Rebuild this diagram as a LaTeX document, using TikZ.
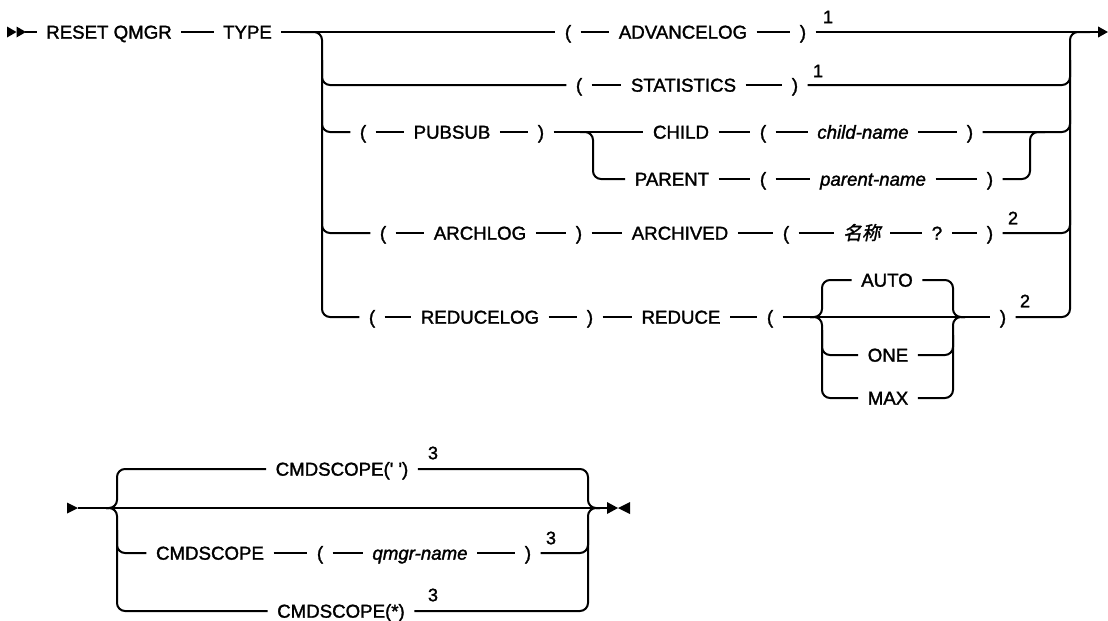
\documentclass[tikz,border=0pt]{standalone}
\usepackage{fontspec}
\setmainfont{Liberation Sans}[FakeBold=1.6]
\newfontfamily\cjkfont[FakeSlant=0.2,FakeBold=1.6]{Noto Sans CJK SC}
\usetikzlibrary{arrows.meta}
\begin{document}
\begin{tikzpicture}[x=0.75pt,y=-0.75pt,
  kw/.style={font=\fontsize{14}{16}\selectfont, inner xsep=7pt, inner ysep=0pt, text height=10pt, text depth=0pt},
  var/.style={kw, font=\fontsize{14}{16}\selectfont\itshape},
  note/.style={font=\fontsize{13.5}{15}\selectfont, inner sep=0pt},
  rc/.style={rounded corners=6pt},
  ln/.style={line width=1.5pt},
  tipfill/.style={fill=black}]
\useasboundingbox (0,0) rectangle (1108,621);

% ---------- row 1 ----------
\node[kw] (reset) at (109,32) {RESET QMGR};
\node[kw] (type) at (247.5,32) {TYPE};
\node[kw] (aop) at (568,32) {(};
\node[kw] (adv) at (683,32) {ADVANCELOG};
\node[kw] (acl) at (803,32) {)};
\node[note] (n1a) at (828,17) {1};
% ---------- row 2 ----------
\node[kw] (sop) at (579,85) {(};
\node[kw] (stat) at (683.5,85) {STATISTICS};
\node[kw] (scl) at (795,85) {)};
\node[note] (n1b) at (818,71) {1};
% ---------- row 3 ----------
\node[kw] (pop) at (363,132) {(};
\node[kw] (pubsub) at (452,132) {PUBSUB};
\node[kw] (pcl) at (541,132) {)};
\node[kw] (child) at (681,132) {CHILD};
\node[kw] (cop) at (763,132) {(};
\node[var] (cname) at (863,132) {child-name};
\node[kw] (ccl) at (970,132) {)};
% ---------- row 4 ----------
\node[kw] (parent) at (672,179) {PARENT};
\node[kw] (paop) at (763,179) {(};
\node[var] (pname) at (873,179) {parent-name};
\node[kw] (pacl) at (990,179) {)};
% ---------- row 5 ----------
\node[kw] (arop) at (383,233) {(};
\node[kw] (archlog) at (480,233) {ARCHLOG};
\node[kw] (arcl) at (579,233) {)};
\node[kw] (archived) at (680,233) {ARCHIVED};
\node[kw] (arvop) at (786,233) {(};
\node[kw] (mc) at (862,233) {\cjkfont 名称};
\node[kw] (qm) at (937,233) {?};
\node[kw] (arvcl) at (990,233) {)};
\node[note] (n2a) at (1013,218) {2};
% ---------- row 6 ----------
\node[kw] (rdop) at (372,317) {(};
\node[kw] (reducelog) at (480,317) {REDUCELOG};
\node[kw] (rdcl) at (590,317) {)};
\node[kw] (reduce) at (681,317) {REDUCE};
\node[kw] (rop) at (770,317) {(};
\node[kw] (rcl) at (1003,317) {)};
\node[note] (n2b) at (1025,301) {2};
\node[kw] (auto) at (887,280) {AUTO};
\node[kw] (one) at (888,355) {ONE};
\node[kw] (max) at (888,398) {MAX};

% ---------- bottom ----------
\node[kw] (cs1) at (342,469) {CMDSCOPE(\textquotesingle{} \textquotesingle)};
\node[note] (n3a) at (433,453) {3};
\node[kw] (cs2) at (210,553) {CMDSCOPE};
\node[kw] (csop) at (320,553) {(};
\node[var] (qname) at (420,553) {qmgr-name};
\node[kw] (cscl) at (528,553) {)};
\node[note] (n3b) at (551,538) {3};
\node[kw] (cs3) at (341,611) {CMDSCOPE(*)};
\node[note] (n3c) at (433,595) {3};

\coordinate (start) at (25,32);
\coordinate (endA) at (1108,32);
\coordinate (bstart) at (78,508);
\coordinate (bend) at (607,508);

% ---------- start / end marks ----------
\fill (7,26.5) -- (16.5,32) -- (7,37.5) -- cycle;
\fill (16.5,26.5) -- (26,32) -- (16.5,37.5) -- cycle;
\fill (67,502.5) -- (78,508) -- (67,513.5) -- cycle;
\fill (607,502) -- (618,508) -- (607,514) -- cycle;
\fill (630,502) -- (618,508) -- (630,514) -- cycle;

\begin{scope}[ln]
% row 1 main line
\draw (start) -- (reset);
\draw (reset) -- (type);
\draw (type) -- (aop);
\draw (aop) -- (adv);
\draw (adv) -- (acl);
\draw[-{Triangle[length=7.5pt,width=8pt]}] (acl) -- (endA);
% left rail
\draw[rc] (300,32) -| (322,317) -- (rdop);
\draw[rc] (322,60) |- (sop);
\draw[rc] (322,110) |- (pop);
\draw[rc] (322,210) |- (arop);
% right rail
\draw[rc] (rcl) -| (1070,32) -- (1090,32);
\draw[rc] (scl) -| (1070,60);
\draw[rc] (ccl) -| (1070,110);
\draw[rc] (arvcl) -| (1070,210);
% row 2
\draw (sop) -- (stat);
\draw (stat) -- (scl);
% row 3
\draw (pop) -- (pubsub);
\draw (pubsub) -- (pcl);
\draw (pcl) -- (child);
\draw (child) -- (cop);
\draw (cop) -- (cname);
\draw (cname) -- (ccl);
% row 4
\draw[rc] (580,132) -| (593,179) -- (parent);
\draw (parent) -- (paop);
\draw (paop) -- (pname);
\draw (pname) -- (pacl);
\draw[rc] (pacl) -| (1030,132) -- (1045,132);
% row 5
\draw (arop) -- (archlog);
\draw (archlog) -- (arcl);
\draw (arcl) -- (archived);
\draw (archived) -- (arvop);
\draw (arvop) -- (mc);
\draw (mc) -- (qm);
\draw (qm) -- (arvcl);
% row 6
\draw (rdop) -- (reducelog);
\draw (reducelog) -- (rdcl);
\draw (rdcl) -- (reduce);
\draw (reduce) -- (rop);
\draw (rop) -- (rcl);
\draw[rc] (810,317) -| (822,280) -- (auto);
\draw[rc] (810,317) -| (822,398) -- (max);
\draw[rc] (822,330) |- (one);
\draw[rc] (auto) -| (953,317) -- (965,317);
\draw[rc] (max) -| (953,317) -- (965,317);
\draw[rc] (one) -| (953,335);
% bottom
\draw (bstart) -- (bend);
\draw[rc] (106,508) -| (117,469) -- (cs1);
\draw[rc] (106,508) -| (117,611) -- (cs3);
\draw[rc] (117,530) |- (cs2);
\draw (cs2) -- (csop);
\draw (csop) -- (qname);
\draw (qname) -- (cscl);
\draw[rc] (cs1) -| (588,508) -- (600,508);
\draw[rc] (cs3) -| (588,508) -- (600,508);
\draw[rc] (cscl) -| (588,530);
\end{scope}
\end{tikzpicture}
\end{document}
